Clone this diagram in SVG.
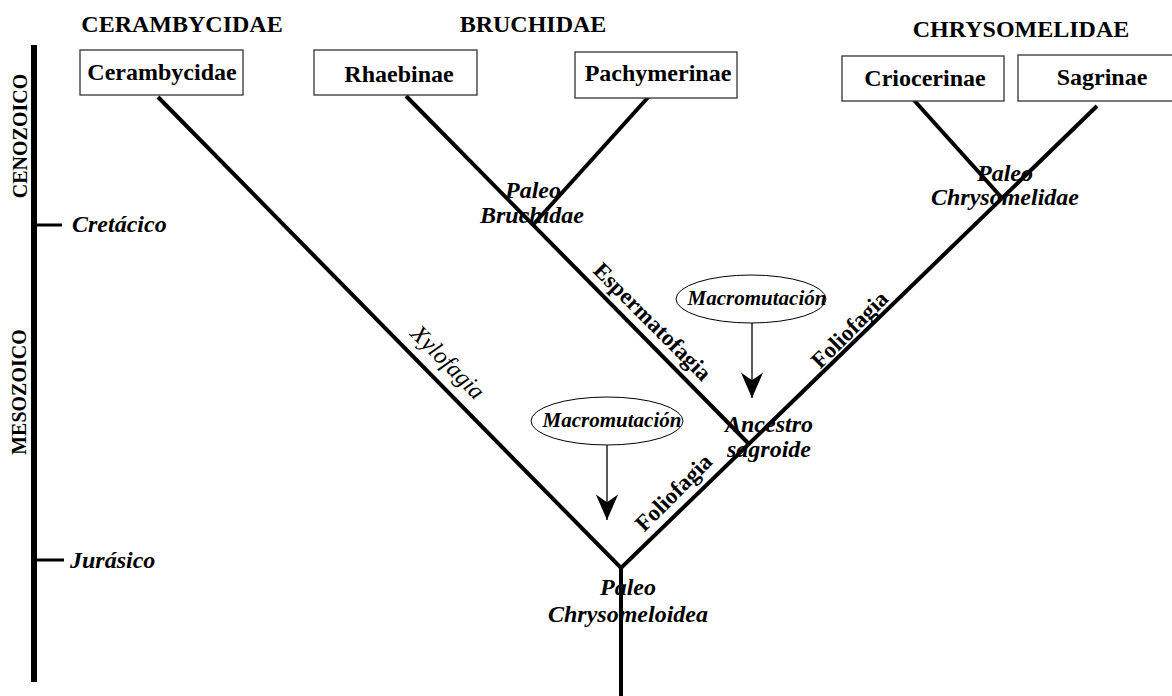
<svg xmlns="http://www.w3.org/2000/svg" width="1172" height="696" viewBox="0 0 1172 696">
  <style>
    text { font-family: "Liberation Serif", "Times New Roman", serif; fill: #000; }
    .hdr { font-size: 24px; font-weight: bold; text-anchor: middle; }
    .era { font-size: 20px; font-weight: bold; text-anchor: middle; }
    .per { font-size: 24px; font-weight: bold; font-style: italic; }
    .box rect { fill: #fff; stroke: #333; stroke-width: 1.3; }
    .box text { font-size: 24px; font-weight: bold; text-anchor: middle; }
    .anc { font-size: 24px; font-weight: bold; font-style: italic; text-anchor: middle; }
    .diet { font-size: 23px; font-weight: bold; text-anchor: middle; }
    .xylo { font-size: 24px; font-style: italic; text-anchor: middle; }
    .mut ellipse { fill: #fff; stroke: #000; stroke-width: 1; }
    .mut text { font-size: 21px; font-weight: bold; font-style: italic; text-anchor: middle; }
    .branch { fill: none; stroke: #000; stroke-width: 4; stroke-linejoin: miter; }
    .arrow { stroke: #000; stroke-width: 1.3; marker-end: url(#head); }
  </style>
  <defs>
    <marker id="head" markerUnits="userSpaceOnUse" markerWidth="30" markerHeight="30" viewBox="-25 -12 27 24" refX="0" refY="0" orient="auto">
      <path d="M0,0 L-23,-10 L-16,0 L-23,10 Z" fill="#000"/>
    </marker>
  </defs>
  <rect width="1172" height="696" fill="#fff"/>

  <!-- time scale -->
  <g id="timescale">
    <rect x="31" y="45" width="6" height="637" fill="#000"/>
    <line x1="37" y1="225" x2="62" y2="225" stroke="#000" stroke-width="3"/>
    <line x1="37" y1="560" x2="64" y2="560" stroke="#000" stroke-width="3"/>
    <text class="era" transform="translate(27,136) rotate(-90)">CENOZOICO</text>
    <text class="era" transform="translate(26,392) rotate(-90)">MESOZOICO</text>
    <text class="per" x="72" y="232">Cretácico</text>
    <text class="per" x="70" y="568">Jurásico</text>
  </g>

  <!-- family headers -->
  <g id="headers">
    <text class="hdr" x="182" y="32">CERAMBYCIDAE</text>
    <text class="hdr" x="533" y="32">BRUCHIDAE</text>
    <text class="hdr" x="1021" y="37">CHRYSOMELIDAE</text>
  </g>

  <!-- connectors -->
  <g id="connectors">
    <path class="branch" d="M158,97 L621,568 L1097,106"/>
    <path class="branch" d="M621,566 L621,696"/>
    <path class="branch" d="M406,96 L748,443"/>
    <path class="branch" d="M652,93 L532,226"/>
    <path class="branch" d="M912,98 L1002,198"/>
    <line class="arrow" x1="752" y1="307" x2="752" y2="398"/>
    <line class="arrow" x1="607" y1="432" x2="607" y2="520"/>
  </g>

  <!-- terminal taxa -->
  <g id="cerambycidae" class="box">
    <rect x="80" y="50" width="163" height="45"/>
    <text x="162" y="80">Cerambycidae</text>
  </g>
  <g id="rhaebinae" class="box">
    <rect x="314" y="50" width="163" height="45"/>
    <text x="399" y="82">Rhaebinae</text>
  </g>
  <g id="pachymerinae" class="box">
    <rect x="575" y="52" width="162" height="46"/>
    <text x="658" y="81">Pachymerinae</text>
  </g>
  <g id="criocerinae" class="box">
    <rect x="842" y="56" width="162" height="45"/>
    <text x="925" y="86">Criocerinae</text>
  </g>
  <g id="sagrinae" class="box">
    <rect x="1018" y="55" width="160" height="46"/>
    <text x="1102" y="85">Sagrinae</text>
  </g>

  <!-- ancestral nodes -->
  <g id="paleo-bruchidae">
    <text class="anc" x="533" y="198">Paleo</text>
    <text class="anc" x="532" y="223">Bruchidae</text>
  </g>
  <g id="paleo-chrysomelidae">
    <text class="anc" x="1005" y="181">Paleo</text>
    <text class="anc" x="1005" y="205">Chrysomelidae</text>
  </g>
  <g id="ancestro-sagroide">
    <text class="anc" x="769" y="432">Ancestro</text>
    <text class="anc" x="769" y="457">sagroide</text>
  </g>
  <g id="paleo-chrysomeloidea">
    <text class="anc" x="628" y="595">Paleo</text>
    <text class="anc" x="628" y="622">Chrysomeloidea</text>
  </g>

  <!-- feeding habits along branches -->
  <g id="branch-labels">
    <text class="xylo" transform="translate(448,362) rotate(45)" y="8">Xylofagia</text>
    <text class="diet" transform="translate(652,322) rotate(45)" y="7">Espermatofagia</text>
    <text class="diet" transform="translate(850,330) rotate(-45)" y="7">Foliofagia</text>
    <text class="diet" transform="translate(674,493) rotate(-45)" y="7">Foliofagia</text>
  </g>

  <!-- macromutation events -->
  <g id="macromutacion-1" class="mut">
    <ellipse cx="751" cy="299" rx="75" ry="24"/>
    <text x="757" y="305">Macromutación</text>
  </g>
  <g id="macromutacion-2" class="mut">
    <ellipse cx="607" cy="421" rx="76" ry="24"/>
    <text x="612" y="427">Macromutación</text>
  </g>
</svg>
